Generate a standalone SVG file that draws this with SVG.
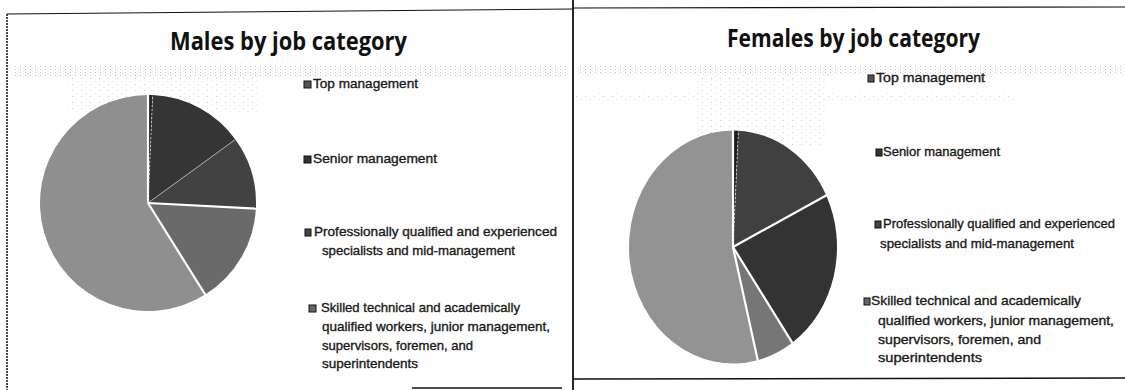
<svg xmlns="http://www.w3.org/2000/svg" width="1125" height="390" viewBox="0 0 1125 390">
<defs>
<style>
.title{font-family:"Open Sans","Liberation Sans",sans-serif;font-weight:700;font-size:25px;fill:#111}
.leg{font-family:"Liberation Sans",Arial,sans-serif;font-size:13px;fill:#1a1a1a;stroke:#1a1a1a;stroke-width:0.35}
.legf{font-family:"Liberation Sans",Arial,sans-serif;font-size:13px;fill:#1a1a1a;stroke:#1a1a1a;stroke-width:0.35}
.mk{stroke:#111;stroke-width:1}
.sep{stroke:#fff;stroke-width:2.2;fill:none}
.faint{stroke:#bbb;stroke-width:0.8;fill:none}
.dash{stroke:#ddd;stroke-width:0.8;stroke-dasharray:2 2;fill:none}
.frame{stroke:#111;fill:none}
</style>
<pattern id="dots" width="5" height="3" patternUnits="userSpaceOnUse">
<rect x="0" y="0" width="1" height="1" fill="#9a9a9a"/>
<rect x="2.5" y="1.5" width="1" height="1" fill="#c4c4c4"/>
</pattern>
<pattern id="dots2" width="9" height="6" patternUnits="userSpaceOnUse">
<rect x="0" y="0" width="1" height="1" fill="#a8a8a8"/>
<rect x="4.5" y="3" width="1" height="1" fill="#cccccc"/>
</pattern>
</defs>

<g id="frames">
<path class="frame" d="M7,14 L573,9" stroke-width="1"/>
<path class="frame" d="M7,14 L7,390" stroke-width="1.5" stroke-dasharray="2 1"/>
<path class="frame" d="M412,388 L562,388" stroke-width="1.5"/>
<path class="frame" d="M573,0 L573,390" stroke-width="1.8"/>
<path class="frame" d="M573,8 L1125,7" stroke-width="1.2"/>
<path class="frame" d="M573,379 L1125,378" stroke-width="1.5"/>
</g>

<g id="scan-shading" opacity="0.6">
<rect x="15" y="66" width="555" height="11" fill="url(#dots)"/>
<rect x="68" y="77" width="190" height="35" fill="url(#dots2)"/>
<rect x="576" y="66" width="549" height="9" fill="url(#dots)"/>
<rect x="576" y="93" width="440" height="7" fill="url(#dots2)"/>
<rect x="695" y="75" width="130" height="70" fill="url(#dots2)"/>
</g>

<g id="males-title"><text class="title" x="170" y="50" textLength="237" lengthAdjust="spacingAndGlyphs">Males by job category</text></g>

<g id="males-pie">
<path d="M148,203 L148,95 A108,108 0 0 1 152.71,95.10 Z" fill="#262626"/>
<path d="M148,203 L152.71,95.10 A108,108 0 0 1 235.37,139.52 Z" fill="#353535"/>
<path d="M148,203 L235.37,139.52 A108,108 0 0 1 255.85,208.65 Z" fill="#424242"/>
<path d="M148,203 L255.85,208.65 A108,108 0 0 1 205.23,294.59 Z" fill="#6a6a6a"/>
<path d="M148,203 L205.23,294.59 A108,108 0 1 1 148,95 Z" fill="#8f8f8f"/>
<path class="sep" d="M148,203 L148,94"/>
<path class="dash" d="M148,203 L152.71,95.10"/>
<path class="faint" d="M148,203 L235.37,139.52"/>
<path class="sep" d="M148,203 L256.5,208.7"/>
<path class="sep" d="M148,203 L205.8,295.5" stroke-width="3"/>
</g>

<g id="males-legend-top"><rect class="mk" x="304" y="81" width="7" height="7" fill="#555"/><text class="leg" x="313" y="88" textLength="105" lengthAdjust="spacingAndGlyphs">Top management</text></g>
<g id="males-legend-senior"><rect class="mk" x="304" y="156" width="7" height="7" fill="#333"/><text class="leg" x="313" y="163" textLength="124" lengthAdjust="spacingAndGlyphs">Senior management</text></g>
<g id="males-legend-prof"><rect class="mk" x="305" y="229" width="6" height="7" fill="#444"/><text class="leg" x="314" y="236" textLength="243" lengthAdjust="spacingAndGlyphs">Professionally qualified and experienced</text><text class="leg" x="322" y="255" textLength="193" lengthAdjust="spacingAndGlyphs">specialists and mid-management</text></g>
<g id="males-legend-skilled"><rect class="mk" x="309" y="305" width="7" height="7" fill="#666"/><text class="leg" x="321" y="312" textLength="199" lengthAdjust="spacingAndGlyphs">Skilled technical and academically</text><text class="leg" x="322" y="331" textLength="228" lengthAdjust="spacingAndGlyphs">qualified workers, junior management,</text><text class="leg" x="322" y="350" textLength="151" lengthAdjust="spacingAndGlyphs">supervisors, foremen, and</text><text class="leg" x="322" y="368" textLength="96" lengthAdjust="spacingAndGlyphs">superintendents</text></g>

<g id="females-title"><text class="title" x="727" y="47" textLength="253" lengthAdjust="spacingAndGlyphs">Females by job category</text></g>

<g id="females-pie">
<path d="M733,247 L733,130.5 A104,116.5 0 0 1 738.44,130.66 Z" fill="#1c1c1c"/>
<path d="M733,247 L738.44,130.66 A104,116.5 0 0 1 826.23,195.38 Z" fill="#404040"/>
<path d="M733,247 L826.23,195.38 A104,116.5 0 0 1 792.21,342.78 Z" fill="#333333"/>
<path d="M733,247 L792.21,342.78 A104,116.5 0 0 1 757.63,360.19 Z" fill="#767676"/>
<path d="M733,247 L757.63,360.19 A104,116.5 0 1 1 733,130.5 Z" fill="#939393"/>
<path class="sep" d="M733,247 L733,130"/>
<path class="dash" d="M733,247 L738.44,130.66"/>
<path class="sep" d="M733,247 L827,195"/>
<path class="sep" d="M733,247 L792.8,343.7"/>
<path class="sep" d="M733,247 L757.9,361"/>
</g>

<g id="females-legend-top"><rect class="mk" x="868" y="75" width="6" height="7" fill="#555"/><text class="legf" x="876" y="82" textLength="109" lengthAdjust="spacingAndGlyphs">Top management</text></g>
<g id="females-legend-senior"><rect class="mk" x="876" y="149" width="6" height="7" fill="#333"/><text class="legf" x="883" y="156" textLength="117" lengthAdjust="spacingAndGlyphs">Senior management</text></g>
<g id="females-legend-prof"><rect class="mk" x="875" y="221" width="6" height="7" fill="#444"/><text class="legf" x="883" y="228" textLength="232" lengthAdjust="spacingAndGlyphs">Professionally qualified and experienced</text><text class="legf" x="880" y="248" textLength="194" lengthAdjust="spacingAndGlyphs">specialists and mid-management</text></g>
<g id="females-legend-skilled"><rect class="mk" x="864" y="298" width="6" height="7" fill="#666"/><text class="legf" x="871" y="305" textLength="210" lengthAdjust="spacingAndGlyphs">Skilled technical and academically</text><text class="legf" x="878" y="325" textLength="236" lengthAdjust="spacingAndGlyphs">qualified workers, junior management,</text><text class="legf" x="878" y="344" textLength="163" lengthAdjust="spacingAndGlyphs">supervisors, foremen, and</text><text class="legf" x="878" y="362" textLength="104" lengthAdjust="spacingAndGlyphs">superintendents</text></g>
</svg>
